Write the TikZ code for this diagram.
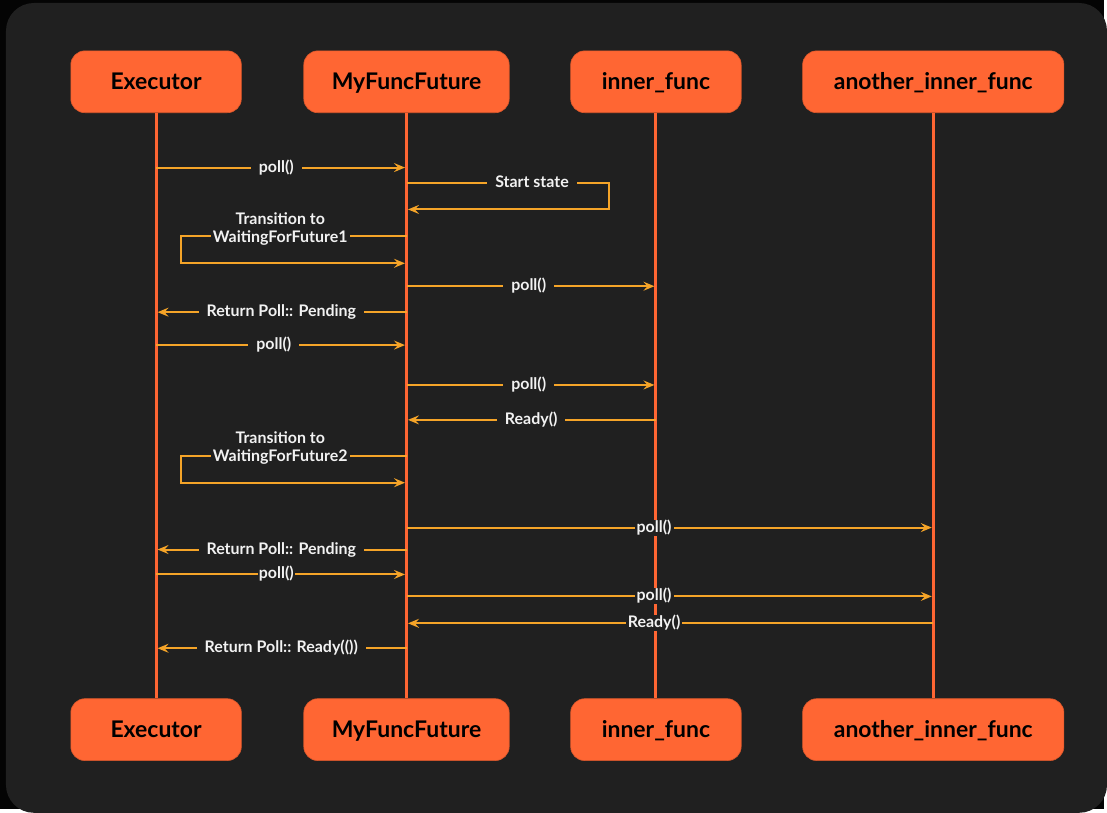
\documentclass[tikz,border=0pt]{standalone}
\usepackage{fontspec}
\setmainfont{Lato}
\usetikzlibrary{positioning,arrows.meta}
\definecolor{pagebg}{RGB}{4,4,4}
\definecolor{darkbg}{RGB}{32,32,32}
\definecolor{actororange}{RGB}{255,102,51}
\definecolor{msgyellow}{RGB}{245,164,40}
\definecolor{labelwhite}{RGB}{242,242,242}
\tikzstyle{actor} = [rectangle, rounded corners=14pt, fill=actororange, draw=actororange!85!black, line width=0.6pt, minimum height=62pt, inner sep=0pt, text height=17pt, text depth=1pt, text=black, font=\fontsize{23}{27}\selectfont\bfseries]
\tikzstyle{lifeline} = [line width=3pt, draw=actororange]
\tikzstyle{msg} = [line width=2pt, draw=msgyellow, -{Stealth[length=11pt,width=9pt,inset=4pt]}, shorten >=1.5pt]
\tikzstyle{msglabel} = [fill=darkbg, text=labelwhite, inner xsep=8pt, inner ysep=1pt, text height=11.5pt, text depth=2.5pt, font=\fontsize{16}{18}\selectfont\bfseries]

\begin{document}
\begin{tikzpicture}[x=1pt, y=-1pt]
        % Background ------------------------------------------------------------------------------
        \fill[pagebg] (0,0) rectangle (1107,811);
        \fill[darkbg, rounded corners=28pt] (6,3) rectangle (1110,815);
        \useasboundingbox (0,0) rectangle (1107,811);
        % Actors ----------------------------------------------------------------------------------
        \node[actor, minimum width=171pt] at (156.5,82) (exec_top){Executor};
        \node[actor, minimum width=206pt, right=62pt of exec_top](future_top){MyFuncFuture};
        \node[actor, minimum width=171pt, right=61pt of future_top](inner_top){inner\_func};
        \node[actor, minimum width=262pt, right=61pt of inner_top](another_top){another\_inner\_func};
        \node[actor, minimum width=171pt, below=587pt of exec_top](exec_bot){Executor};
        \node[actor, minimum width=206pt, below=587pt of future_top](future_bot){MyFuncFuture};
        \node[actor, minimum width=171pt, below=587pt of inner_top](inner_bot){inner\_func};
        \node[actor, minimum width=262pt, below=587pt of another_top](another_bot){another\_inner\_func};
        % Lifelines -------------------------------------------------------------------------------
        \foreach \who in {exec,future,inner,another}
            \draw[lifeline] (\who_top.south) -- (\who_bot.north);
        % Messages --------------------------------------------------------------------------------
        \draw[msg] (exec_top |- 0,168) -- node[msglabel, pos=0.48]{poll()} (future_top |- 0,168);
        \draw[msg] (future_top |- 0,183) -- node[msglabel, pos=0.62]{Start state} ++(203,0) |- (future_top |- 0,210);
        \draw[msg] (future_top |- 0,237) -- ++(-226,0) |- (future_top |- 0,264);
        \node[msglabel, align=center, inner xsep=2pt, text height=, text depth=] at (281,230) (trans_one){Transition to\\WaitingForFuture1};
        \draw[msg] (future_top |- 0,287) -- node[msglabel, pos=0.49]{poll()} (inner_top |- 0,287);
        \draw[msg] (future_top |- 0,313) -- node[msglabel]{Return Poll:: Pending} (exec_top |- 0,313);
        \draw[msg] (exec_top |- 0,346) -- node[msglabel, pos=0.47]{poll()} (future_top |- 0,346);
        \draw[msg] (future_top |- 0,386) -- node[msglabel, pos=0.49]{poll()} (inner_top |- 0,386);
        \draw[msg] (inner_top |- 0,421) -- node[msglabel]{Ready()} (future_top |- 0,421);
        \draw[msg] (future_top |- 0,457) -- ++(-226,0) |- (future_top |- 0,484);
        \node[msglabel, align=center, inner xsep=2pt, text height=, text depth=] at (281,449) (trans_two){Transition to\\WaitingForFuture2};
        \draw[msg] (future_top |- 0,529) -- node[msglabel, pos=0.47, inner xsep=2pt]{poll()} (another_top |- 0,529);
        \draw[msg] (future_top |- 0,551) -- node[msglabel, inner ysep=0pt]{Return Poll:: Pending} (exec_top |- 0,551);
        \draw[msg] (exec_top |- 0,576) -- node[msglabel, pos=0.48, inner xsep=1pt]{poll()} (future_top |- 0,576);
        \draw[msg] (future_top |- 0,598) -- node[msglabel, pos=0.47, inner xsep=2pt]{poll()} (another_top |- 0,598);
        \draw[msg] (another_top |- 0,625) -- node[msglabel, pos=0.53, inner xsep=2pt]{Ready()} (future_top |- 0,625);
        \draw[msg] (future_top |- 0,650) -- node[msglabel]{Return Poll:: Ready(())} (exec_top |- 0,650);
    \end{tikzpicture}
\end{document}
